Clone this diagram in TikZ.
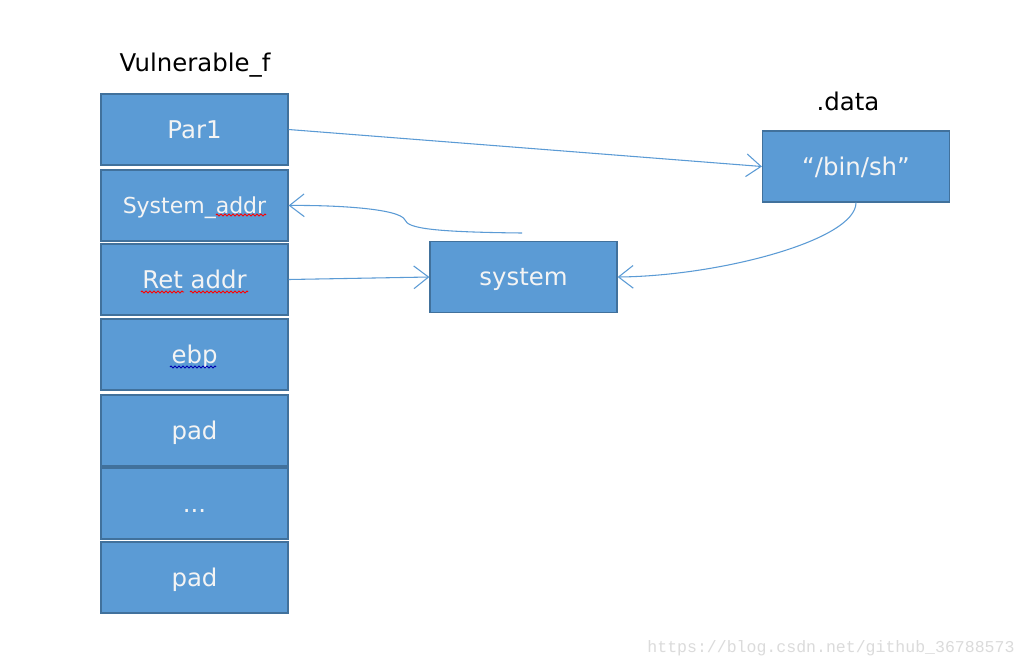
\documentclass[tikz,border=0pt]{standalone}
\usepackage{fontspec}
\setmainfont{DejaVu Sans}
\newfontfamily\wmfont{Liberation Mono}
\usetikzlibrary{arrows.meta,decorations.pathmorphing}
\definecolor{boxfill}{HTML}{5B9BD5}
\definecolor{boxdraw}{HTML}{41719C}
\definecolor{linkc}{HTML}{5B9BD5}
\definecolor{txtc}{HTML}{F4F4F4}
\begin{document}
\begin{tikzpicture}[x=0.75pt,y=-0.75pt,
  cell/.style={draw=boxdraw,fill=boxfill,line width=1.2pt,minimum width=140pt,minimum height=53pt,inner sep=0pt,text=txtc,font=\fontsize{18.3}{21}\selectfont,text height=14pt,text depth=1pt},
  title/.style={text=black,font=\fontsize{18.3}{21}\selectfont,inner sep=0pt},
  link/.style={draw=linkc,line width=0.8pt,-{Straight Barb[length=11pt,width=17pt,line width=0.8pt]}},
  squig/.style={line width=0.6pt,decorate,decoration={zigzag,segment length=3pt,amplitude=0.8pt}}]
\useasboundingbox (0,0) rectangle (1028,669);
\fill[white] (0,0) rectangle (1028,669);
\node[title] (t1) at (195,65) {Vulnerable\_f};
\node[title] (t2) at (848,101) {.data};
\node[cell] (par) at (194.5,129.5) {Par1};
\node[cell,font=\fontsize{16.5}{19}\selectfont,text height=13pt] (sa) at (194.5,205.5) {System\_addr};
\node[cell] (ret) at (194.5,279.5) {Ret addr};
\node[cell] (ebp) at (194.5,354.5) {ebp};
\node[cell] (pad1) at (194.5,430.5) {pad};
\node[cell] (dots) at (194.5,503.5) {...};
\node[cell] (pad2) at (194.5,577.5) {pad};
\node[cell] (sys) at (523.5,277) {system};
\node[cell] (bin) at (856,166.5) {“/bin/sh”};
\coordinate (s1) at (522,233);
% connectors
\draw[link] (par.east) -- (bin.west);
\draw[link] (ret.east) -- (sys.west);
\draw[link] (s1) .. controls (430,232) and (408,228) .. (405,220) .. controls (400,208) and (330,205) .. (sa.east);
\draw[link] (bin.south) .. controls (856,240) and (720,276) .. (sys.east);
% spell-check squiggles
\draw[squig,red] (216,215) -- (266,215);
\draw[squig,red] (141,292) -- (184,292);
\draw[squig,red] (190,292) -- (248,292);
\draw[squig,blue!70!black] (170,367) -- (216,367);
% watermark
\node[text=black!14,font=\wmfont\fontsize{12.4}{14}\selectfont,inner sep=0pt] (wm) at (831,648) {https://blog.csdn.net/github\_36788573};
\end{tikzpicture}
\end{document}
